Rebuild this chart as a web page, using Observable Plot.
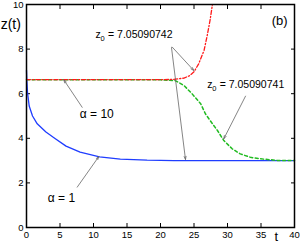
<!DOCTYPE html>
<html><head><meta charset="utf-8">
<script src="https://cdn.jsdelivr.net/npm/d3@7"></script>
<script src="https://cdn.jsdelivr.net/npm/@observablehq/plot@0.6"></script>
<style>body{margin:0;background:#fff} svg{font-family:"Liberation Sans",Arial,sans-serif}</style>
</head><body><div id="chart"></div>
<script>
// alpha = 1 (blue)
const blueT = [0, 0.05, 0.15, 0.4, 0.9, 1.6, 2.9, 4.2, 5.9, 8, 10.9, 14, 18, 22, 30, 40];
const blueZ = [7.05, 6.6, 6.05, 5.45, 5.0, 4.65, 4.28, 4.0, 3.65, 3.38, 3.17, 3.07, 3.02, 3.0, 3.0, 3.0];
// alpha = 10, z0 = 7.05090742 (red, blows up)
const redT = [0, 5, 10, 15, 20, 22, 23.5, 24.3, 25, 25.7, 26.5, 27, 27.4, 27.75];
const redZ = [6.63, 6.63, 6.63, 6.63, 6.63, 6.64, 6.7, 6.8, 6.98, 7.34, 7.94, 8.65, 9.3, 10];
// alpha = 10, z0 = 7.05090741 (green, decays)
const greenT = [0, 5, 10, 15, 20, 22.2, 23.5, 24.7, 26, 26.7, 27.4, 28.5, 29.45, 30.7, 31.9, 33.4, 34.9, 37.4, 40];
const greenZ = [6.63, 6.63, 6.63, 6.63, 6.62, 6.59, 6.37, 6.0, 5.55, 5.1, 4.8, 4.35, 3.9, 3.53, 3.3, 3.15, 3.08, 3.01, 3.0];
// tick values
const xTicks = [0, 5, 10, 15, 20, 25, 30, 35, 40];
const yTicks = [0, 2, 4, 6, 8, 10];
// annotation arrows
const arrowX1 = [8.31, 7.57, 21.75, 21.64, 32.69];
const arrowY1 = [5.39, 1.81, 8.09, 8.07, 5.89];
const arrowX2 = [5.57, 10.79, 24.97, 23.73, 29.45];
const arrowY2 = [6.62, 3.18, 7.04, 3.05, 3.98];
// annotation labels
const alphaLabels = ["α = 10", "α = 1"];
const alphaX = [7.96, 3.18];
const alphaY = [4.93, 1.13];
const zLabelValues = ["= 7.05090742", "= 7.05090741"];
const zLabelX = [10.3, 26.97];
const zLabelY = [8.5, 6.26];

const line = (T, Z) => T.map((t, i) => ({t, z: Z[i]}));
const arrows = arrowX1.map((d, i) => ({x1: d, y1: arrowY1[i], x2: arrowX2[i], y2: arrowY2[i]}));
const alphas = alphaLabels.map((s, i) => ({s, x: alphaX[i], y: alphaY[i]}));
const zlabs = zLabelValues.map((s, i) => ({s, x: zLabelX[i], y: zLabelY[i]}));

const chart = Plot.plot({
  width: 300, height: 245,
  marginLeft: 26, marginRight: 6, marginTop: 4, marginBottom: 18,
  style: {fontFamily: '"Liberation Sans", Arial, sans-serif', fontSize: "9.5px", background: "white", overflow: "visible"},
  x: {domain: [0, 40]},
  y: {domain: [0, 10]},
  marks: [
    Plot.axisX({anchor: "bottom", ticks: xTicks, tickSize: -4, tickPadding: 8, label: null, stroke: "black"}),
    Plot.axisX({anchor: "top", ticks: xTicks, tickSize: -4, tickFormat: () => "", label: null}),
    Plot.axisY({anchor: "left", ticks: yTicks, tickSize: -4, tickPadding: 7, label: null}),
    Plot.axisY({anchor: "right", ticks: yTicks, tickSize: -4, tickFormat: () => "", label: null}),
    Plot.line(line(blueT, blueZ), {x: "t", y: "z", stroke: "#1f3dff", strokeWidth: 1.3}),
    Plot.line(line(greenT, greenZ), {x: "t", y: "z", stroke: "#22bb22", strokeWidth: 1.5, strokeDasharray: "3,2.5"}),
    Plot.line(line(redT, redZ), {x: "t", y: "z", stroke: "#ff1a1a", strokeWidth: 1.3, strokeDasharray: "4,2,1.2,2", clip: true}),
    Plot.arrow(arrows, {x1: "x1", y1: "y1", x2: "x2", y2: "y2", stroke: "#666", strokeWidth: 0.8, headLength: 6, headAngle: 35}),
    Plot.text(alphas, {x: "x", y: "y", text: "s", textAnchor: "start", lineAnchor: "bottom", fontSize: 12}),
    Plot.text(zlabs, {x: "x", y: "y", text: () => "z", textAnchor: "start", lineAnchor: "bottom", fontSize: 10.5}),
    Plot.text(zlabs, {x: "x", y: "y", text: () => "0", textAnchor: "start", lineAnchor: "bottom", fontSize: 7.5, dx: 5, dy: 3}),
    Plot.text(zlabs, {x: "x", y: "y", text: "s", textAnchor: "start", lineAnchor: "bottom", fontSize: 10.5, dx: 12.5}),
    Plot.text(["z(t)"], {x: -3.85, y: 8.88, text: d => d, textAnchor: "start", lineAnchor: "bottom", fontSize: 14}),
    Plot.text(["t"], {x: 37.3, y: -0.6, text: d => d, textAnchor: "middle", lineAnchor: "bottom", fontSize: 13}),
    Plot.text(["(b)"], {x: 36.6, y: 9.06, text: d => d, textAnchor: "start", lineAnchor: "bottom", fontSize: 13}),
    Plot.frame({stroke: "black", strokeWidth: 1.5})
  ]
});
document.getElementById("chart").append(chart);
</script></body></html>
